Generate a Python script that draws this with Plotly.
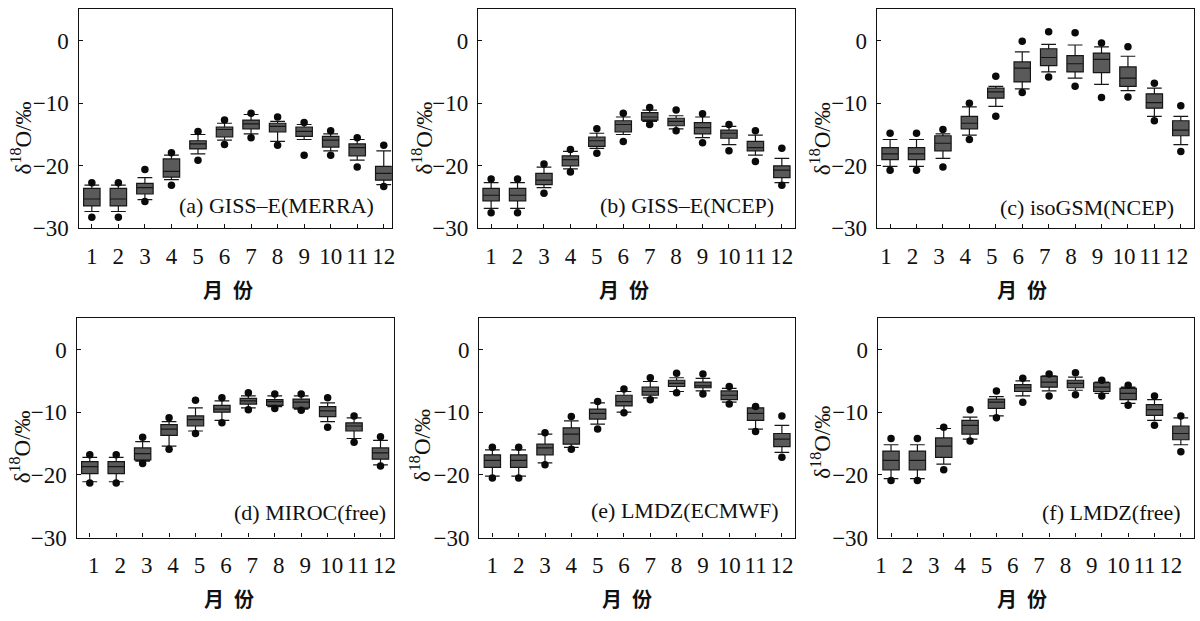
import plotly.graph_objects as go

months = [1, 2, 3, 4, 5, 6, 7, 8, 9, 10, 11, 12]
month_labels = ["1", "2", "3", "4", "5", "6", "7", "8", "9", "10", "11", "12"]
y_ticks = [0, -10, -20, -30]

labels = ["(a) GISS–E(MERRA)", "(b) GISS–E(NCEP)", "(c) isoGSM(NCEP)",
          "(d) MIROC(free)", "(e) LMDZ(ECMWF)", "(f) LMDZ(free)"]

# (a) GISS-E(MERRA)
a_hi_dot = [-22.7, -22.7, -20.6, -17.9, -14.5, -12.7, -11.6, -12.2, -13.1, -14.4, -15.5, -16.7]
a_hi_cap = [-23.1, -23.1, -21.9, -18.3, -15.0, -13.2, -11.8, -12.9, -13.4, -14.9, -15.8, -17.6]
a_q3 = [-23.6, -23.6, -22.8, -18.9, -16.0, -13.8, -12.7, -13.2, -13.8, -15.3, -16.5, -20.1]
a_med = [-25.3, -25.3, -23.5, -20.9, -16.5, -14.2, -13.3, -13.7, -14.5, -15.9, -17.1, -21.2]
a_q1 = [-26.4, -26.4, -24.5, -21.8, -17.3, -15.4, -14.1, -14.6, -15.3, -17.0, -18.4, -22.3]
a_lo_cap = [-27.3, -27.3, -25.4, -22.2, -18.1, -15.9, -14.9, -16.1, -15.8, -17.6, -19.1, -23.0]
a_lo_dot = [-28.2, -28.2, -25.7, -23.1, -19.1, -16.6, -15.5, -16.7, -18.3, -18.3, -20.2, -23.3]

# (b) GISS-E(NCEP)
b_hi_dot = [-22.1, -22.1, -19.7, -17.4, -14.1, -11.6, -10.7, -11.1, -11.7, -13.4, -14.4, -17.2]
b_hi_cap = [-22.7, -22.7, -20.2, -17.7, -14.8, -12.2, -11.1, -12.0, -12.2, -13.7, -15.1, -18.8]
b_q3 = [-23.6, -23.6, -21.2, -18.4, -15.4, -12.8, -11.5, -12.4, -13.1, -14.3, -16.1, -20.0]
b_med = [-24.7, -24.7, -22.3, -19.0, -16.0, -13.4, -12.2, -12.9, -13.9, -14.8, -17.1, -20.7]
b_q1 = [-25.6, -25.6, -23.0, -20.0, -16.9, -14.6, -12.7, -13.6, -14.9, -15.6, -17.6, -21.9]
b_lo_cap = [-26.8, -26.8, -23.5, -20.5, -17.2, -15.0, -12.9, -14.1, -15.5, -16.6, -18.3, -22.7]
b_lo_dot = [-27.5, -27.5, -24.4, -21.0, -18.0, -16.1, -13.4, -14.4, -16.3, -17.6, -19.3, -23.1]

# (c) isoGSM(NCEP)
c_hi_dot = [-14.8, -14.8, -14.2, -10.0, -5.7, -0.1, 1.4, 1.25, -0.4, -1.0, -6.8, -10.4]
c_hi_cap = [-15.8, -15.8, -14.9, -10.6, -7.3, -1.8, -0.6, -0.7, -1.0, -2.5, -7.6, -12.1]
c_q3 = [-17.1, -17.1, -15.2, -12.1, -7.6, -3.4, -1.3, -2.4, -2.0, -4.2, -8.5, -12.8]
c_med = [-18.1, -18.1, -16.4, -13.2, -8.2, -4.4, -2.7, -3.7, -3.0, -6.0, -9.9, -14.3]
c_q1 = [-19.0, -19.0, -17.6, -14.1, -9.2, -6.6, -4.0, -5.0, -5.1, -7.3, -10.8, -15.2]
c_lo_cap = [-20.1, -20.1, -18.8, -15.1, -10.5, -7.7, -5.0, -6.0, -7.0, -8.0, -12.1, -16.6]
c_lo_dot = [-20.7, -20.7, -20.2, -15.8, -12.1, -8.3, -5.8, -7.3, -9.1, -9.0, -12.8, -17.7]

# (d) MIROC(free)
d_hi_dot = [-16.8, -16.8, -14.0, -10.9, -8.1, -7.7, -6.9, -7.1, -7.1, -7.7, -10.6, -13.9]
d_hi_cap = [-17.2, -17.2, -14.7, -11.5, -9.3, -8.2, -7.4, -7.4, -7.4, -8.5, -10.9, -14.5]
d_q3 = [-17.9, -17.9, -15.7, -12.0, -10.6, -8.9, -7.8, -8.0, -7.9, -9.1, -11.7, -15.7]
d_med = [-18.7, -18.7, -16.6, -12.7, -11.2, -9.5, -8.2, -8.3, -8.4, -9.8, -12.2, -16.5]
d_q1 = [-19.8, -19.8, -17.6, -13.7, -12.2, -10.0, -8.7, -8.9, -9.3, -10.7, -13.0, -17.5]
d_lo_cap = [-21.1, -21.1, -17.8, -15.4, -13.0, -11.3, -9.3, -9.1, -9.5, -11.5, -14.2, -18.4]
d_lo_dot = [-21.3, -21.3, -18.2, -15.9, -13.4, -11.7, -9.6, -9.4, -9.7, -12.4, -14.8, -18.6]

# (e) LMDZ(ECMWF)
e_hi_dot = [-15.6, -15.6, -13.3, -10.7, -8.3, -6.3, -4.5, -3.8, -3.9, -5.9, -9.1, -10.6]
e_hi_cap = [-16.0, -16.0, -13.5, -11.4, -8.5, -6.7, -5.1, -4.5, -4.6, -6.2, -9.3, -12.1]
e_q3 = [-16.8, -16.8, -15.1, -12.5, -9.5, -7.3, -6.0, -4.9, -5.2, -6.6, -9.3, -13.4]
e_med = [-17.7, -17.7, -15.7, -13.5, -10.2, -8.3, -6.7, -5.4, -5.8, -7.3, -10.2, -14.3]
e_q1 = [-18.8, -18.8, -16.8, -15.1, -11.1, -9.0, -7.3, -5.9, -6.1, -8.0, -11.3, -15.5]
e_lo_cap = [-20.2, -20.2, -18.1, -15.6, -11.9, -10.0, -7.7, -6.7, -6.6, -8.4, -12.7, -16.4]
e_lo_dot = [-20.5, -20.5, -18.4, -15.9, -12.7, -10.1, -8.0, -6.9, -7.1, -8.7, -13.1, -17.2]

# (f) LMDZ(free)
f_hi_dot = [-14.2, -14.2, -12.4, -9.6, -6.6, -4.6, -3.9, -3.7, -4.9, -5.7, -7.4, -10.6]
f_hi_cap = [-15.2, -15.2, -12.6, -10.8, -7.5, -5.0, -4.2, -4.4, -5.2, -6.0, -8.0, -10.9]
f_q3 = [-16.2, -16.2, -14.1, -11.3, -7.9, -5.6, -4.3, -4.9, -5.3, -6.2, -8.8, -12.2]
f_med = [-17.7, -17.7, -15.4, -12.1, -8.4, -6.1, -5.2, -5.4, -6.0, -7.0, -9.6, -13.4]
f_q1 = [-19.2, -19.2, -17.2, -13.5, -9.4, -6.7, -6.0, -6.1, -6.7, -8.0, -10.5, -14.4]
f_lo_cap = [-20.6, -20.6, -18.3, -14.3, -10.6, -7.4, -6.6, -6.5, -7.0, -8.6, -11.3, -15.2]
f_lo_dot = [-20.9, -20.9, -19.2, -14.6, -10.9, -8.4, -7.4, -7.2, -7.4, -8.9, -12.1, -16.3]

panels = [
    (a_hi_dot, a_hi_cap, a_q3, a_med, a_q1, a_lo_cap, a_lo_dot),
    (b_hi_dot, b_hi_cap, b_q3, b_med, b_q1, b_lo_cap, b_lo_dot),
    (c_hi_dot, c_hi_cap, c_q3, c_med, c_q1, c_lo_cap, c_lo_dot),
    (d_hi_dot, d_hi_cap, d_q3, d_med, d_q1, d_lo_cap, d_lo_dot),
    (e_hi_dot, e_hi_cap, e_q3, e_med, e_q1, e_lo_cap, e_lo_dot),
    (f_hi_dot, f_hi_cap, f_q3, f_med, f_q1, f_lo_cap, f_lo_dot),
]

W, H = 1200, 621
# plot-area boxes in pixels: (left, right, top, bottom)
boxes_px = [(76, 391, 9.5, 233.3), (477.7, 796.7, 9.5, 233.3), (879, 1198, 9.5, 233.3),
            (74, 393, 325, 549), (479, 796.7, 325, 549), (880, 1198, 325, 549)]
x_ranges = [[0.5, 12.3], [0.5, 12.5], [0.5, 12.5], [0.5, 12.5], [0.5, 12.5], [0.5, 12.5]]
label_shift = [0, 0, -4, 4, 0, -10]
ytitle_px = [(18.5, 141), (422, 141), (822, 142), (18, 456), (420, 455), (823, 452)]
xtitle_px = [(226, 296), (625, 296), (1025, 296), (227, 611), (628, 611), (1025, 611)]
label_px = [(375, 210), (778, 210), (1180, 212), (387, 523), (783, 521), (1187, 523)]

SERIF = "Liberation Serif"
fig = go.Figure()
layout = dict(width=W, height=H, margin=dict(l=0, r=0, t=0, b=0),
              paper_bgcolor="white", plot_bgcolor="white", showlegend=False,
              font=dict(family=SERIF, size=22, color="#111"))
annotations = []

for i, (hd, hc, q3, med, q1, lc, ld) in enumerate(panels):
    n = "" if i == 0 else str(i + 1)
    xa, ya = "x" + n, "y" + n
    fig.add_trace(go.Box(
        x=months, q1=q1, median=med, q3=q3, lowerfence=lc, upperfence=hc,
        xaxis=xa, yaxis=ya, width=0.62, whiskerwidth=0.9,
        fillcolor="#5a5a5a", line=dict(color="#161616", width=1.2),
        boxpoints=False, hoverinfo="skip"))
    fig.add_trace(go.Scatter(
        x=months + months, y=hd + ld, mode="markers", xaxis=xa, yaxis=ya,
        marker=dict(color="#0a0a0a", size=7.5), hoverinfo="skip"))
    l, r, t, b = boxes_px[i]
    axis_common = dict(showline=True, linecolor="#111", linewidth=1.3, mirror=True,
                       ticks="inside", ticklen=4, tickcolor="#111", tickwidth=1.2,
                       showgrid=False, zeroline=False,
                       tickfont=dict(family=SERIF, size=23, color="#111"))
    layout["xaxis" + n] = dict(axis_common, domain=[l / W, r / W], anchor=ya,
                               range=x_ranges[i], tickvals=months, ticktext=month_labels,
                               ticklabelshift=label_shift[i], ticklabelstandoff=7)
    layout["yaxis" + n] = dict(axis_common, domain=[1 - b / H, 1 - t / H], anchor=xa,
                               range=[-30, 5], tickvals=y_ticks, ticklabelstandoff=4)
    tx, ty = ytitle_px[i]
    annotations.append(dict(text="δ<sup>18</sup>O/‰", x=tx / W, y=1 - ty / H,
                            xref="paper", yref="paper", showarrow=False, textangle=-90,
                            xanchor="center", yanchor="middle",
                            font=dict(family=SERIF, size=23, color="#111")))
    gx, gy = xtitle_px[i]
    annotations.append(dict(text="<b>月\u2002份</b>", x=gx / W, y=1 - gy / H,
                            xref="paper", yref="paper", showarrow=False,
                            xanchor="center", yanchor="middle",
                            font=dict(family="Noto Sans CJK SC", size=20, color="#111")))
    px_, py_ = label_px[i]
    annotations.append(dict(text=labels[i], x=px_ / W, y=1 - py_ / H,
                            xref="paper", yref="paper", showarrow=False,
                            xanchor="right", yanchor="middle",
                            font=dict(family=SERIF, size=22, color="#111")))

layout["annotations"] = annotations
fig.update_layout(**layout)
fig.write_html("out.html", config={"displayModeBar": False},
               post_script="document.body.style.margin='0px';document.body.style.padding='0px';")
